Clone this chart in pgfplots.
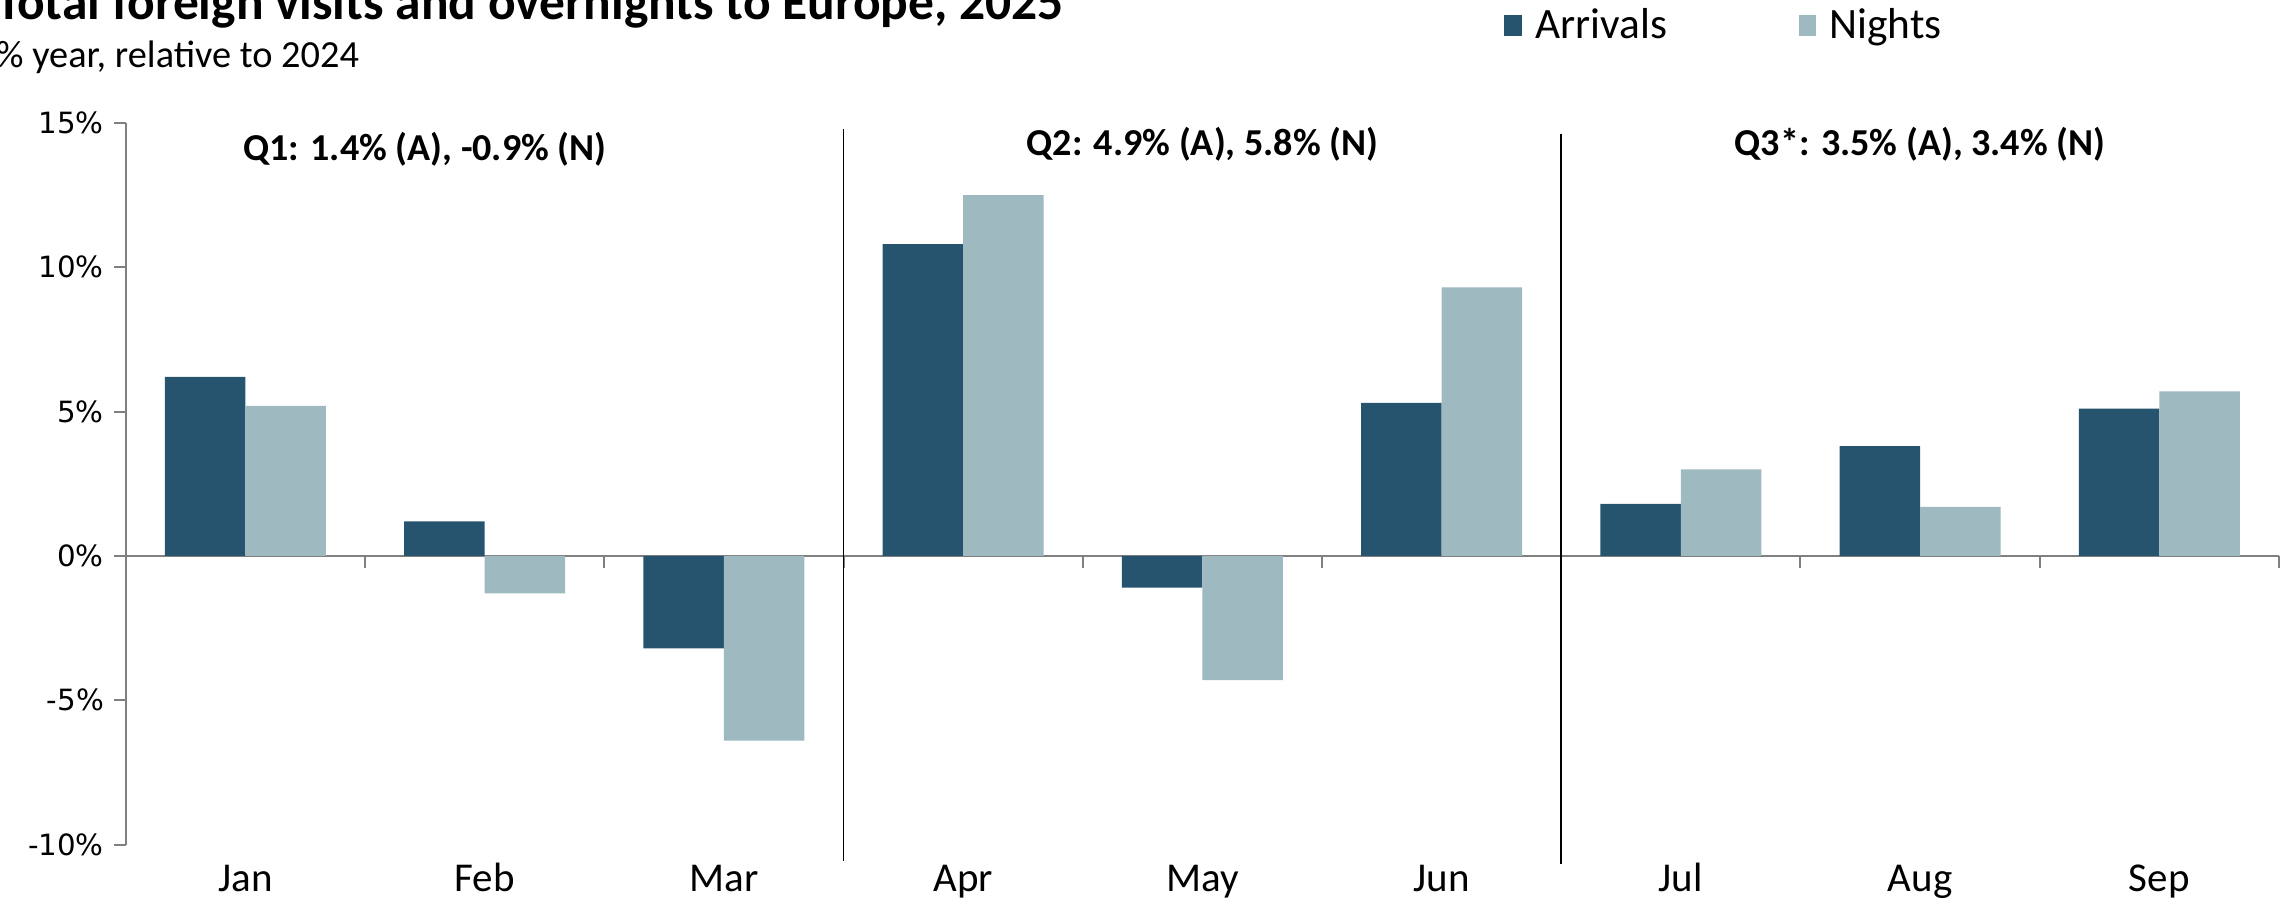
\documentclass[border=0pt]{standalone}
\usepackage{fontspec}
\setmainfont{Carlito}
\newfontfamily\tickfont{DejaVu Sans}
\usepackage{pgfplots}
\pgfplotsset{compat=1.18}
\definecolor{arr}{RGB}{38,84,110}
\definecolor{ngt}{RGB}{158,185,191}
\definecolor{axgray}{RGB}{128,128,128}

\begin{document}
\begin{tikzpicture}
\begin{axis}[
  at={(0,0)}, anchor=south west,
  scale only axis, width=735.5pt, height=246.5pt,
  xmin=-0.5, xmax=8.5, ymin=-10, ymax=15,
  axis y line=left, axis x line=middle,
  axis line style={-, draw=axgray, line width=0.7pt},
  hide obscured x ticks=false, hide obscured y ticks=false,
  tick align=outside,
  major tick length=4pt,
  ytick={-10,-5,0,5,10,15},
  yticklabel={\tickfont\fontsize{10}{12}\selectfont\pgfmathprintnumber[assume math mode=true]{\tick}\%\hspace{4.2pt}},
  ytick style={draw=axgray, line width=0.7pt},
  xtick={0,...,8},
  xticklabels={Jan,Feb,Mar,Apr,May,Jun,Jul,Aug,Sep},
  xtick style={draw=none},
  xticklabel style={font=\fontsize{14}{16}\selectfont, anchor=base, inner sep=0pt, yshift=-110.8pt},
  extra x ticks={-0.5,0.5,...,8.5},
  extra x tick labels={},
  extra x tick style={xtick style={draw=axgray, line width=0.7pt}},
  ybar=0pt, bar width=27.5pt,
  clip=false,
  legend columns=2,
  legend style={at={(axis description cs:0.640,1.135)}, anchor=west, draw=none, fill=none,
    inner sep=0pt, font=\fontsize{14.8}{16}\selectfont,
    /tikz/every even column/.append style={column sep=43pt}},
  legend cell align=left,
]
% Arrivals
\addplot[fill=arr, draw=none,
  legend image code/.code={\fill[arr] (0pt,-3.6pt) rectangle (6pt,3.6pt);}]
  coordinates {(0,6.2) (1,1.2) (2,-3.2) (3,10.8) (4,-1.1) (5,5.3) (6,1.8) (7,3.8) (8,5.1)};
% Nights
\addplot[fill=ngt, draw=none,
  legend image code/.code={\fill[ngt] (0pt,-3.6pt) rectangle (6pt,3.6pt);}]
  coordinates {(0,5.2) (1,-1.3) (2,-6.4) (3,12.5) (4,-4.3) (5,9.3) (6,3.0) (7,1.7) (8,5.7)};
\legend{\hspace{2.5pt}Arrivals, \hspace{2.5pt}Nights}

% quarter separators and summaries
\draw[black, line width=0.6pt] (axis cs:2.5,14.8) -- (axis cs:2.5,-10.56);
\draw[black, line width=0.6pt] (axis cs:5.5,14.6) -- (axis cs:5.5,-10.66);
\node[font=\bfseries\fontsize{13}{15}\selectfont] at (axis cs:0.75,14.1) {Q1: 1.4\% (A), -0.9\% (N)};
\node[font=\bfseries\fontsize{13}{15}\selectfont] at (axis cs:4,14.25) {Q2: 4.9\% (A), 5.8\% (N)};
\node[font=\bfseries\fontsize{13}{15}\selectfont] at (axis cs:7,14.25) {Q3*: 3.5\% (A), 3.4\% (N)};
\end{axis}

\node[anchor=base west, inner sep=0pt, font=\bfseries\fontsize{17.6}{20}\selectfont] at (-44.5pt,282pt) {Total foreign visits and overnights to Europe, 2025};
\node[anchor=base west, inner sep=0pt, font=\fontsize{13.1}{15}\selectfont] at (-44.5pt,265.5pt) {\% year, relative to 2024};

\pgfresetboundingbox
\useasboundingbox (-43pt,-19.5pt) rectangle (741pt,288.5pt);
\end{tikzpicture}
\end{document}
